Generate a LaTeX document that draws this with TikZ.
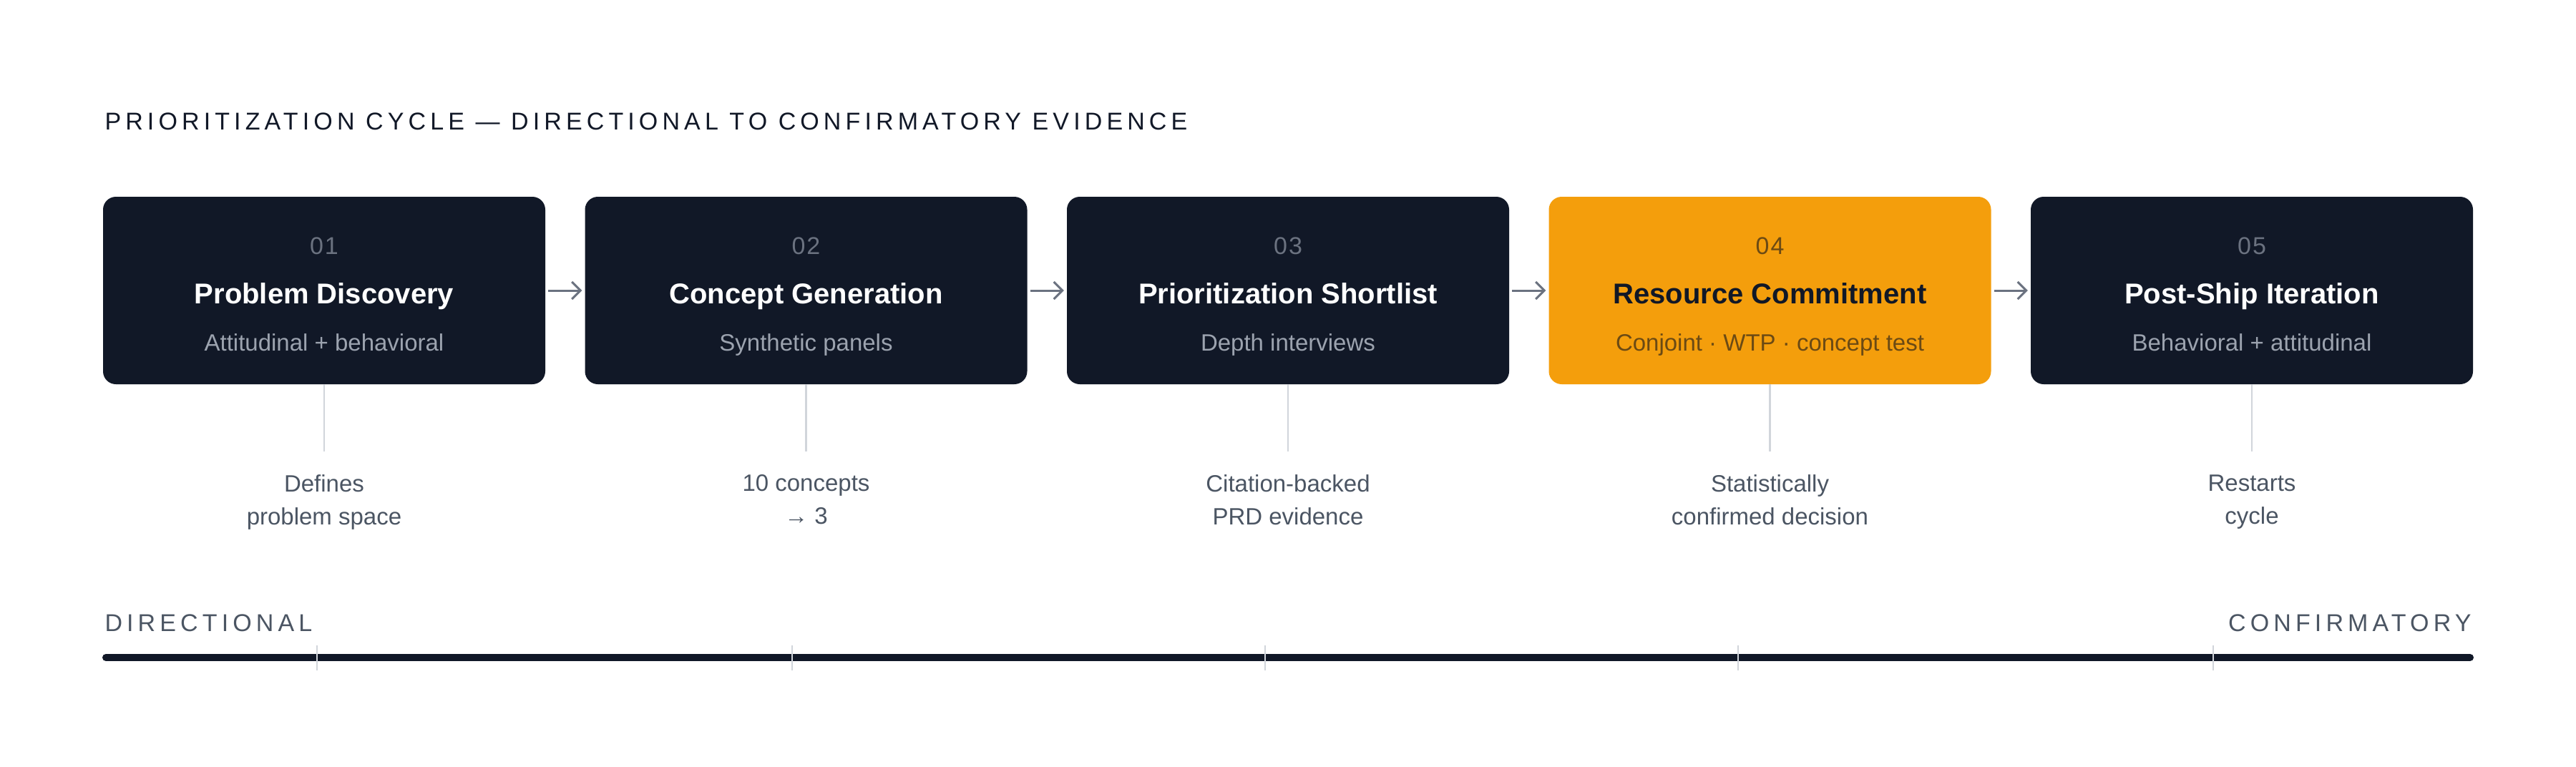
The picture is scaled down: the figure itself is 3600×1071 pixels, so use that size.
\documentclass[tikz,border=0pt]{standalone}
\usepackage{fontspec}
\setmainfont{Liberation Sans}
\newfontfamily\spaced[LetterSpace=18]{Liberation Sans}
\newfontfamily\spacedb[LetterSpace=6]{Liberation Sans}
\usetikzlibrary{arrows.meta}
\definecolor{ink}{HTML}{111827}
\definecolor{amber}{HTML}{F49E0C}
\definecolor{numgray}{HTML}{6B7280}
\definecolor{subgray}{HTML}{9CA3AF}
\definecolor{lblgray}{HTML}{4B5563}
\definecolor{rule}{HTML}{D1D5DB}
\definecolor{brown}{HTML}{6B4A14}
\begin{document}
\begin{tikzpicture}[x=1pt,y=-1pt,
  box/.style={draw=none,fill=ink,rounded corners=18pt,minimum width=618pt,minimum height=262pt,inner sep=0pt},
  num/.style={font=\fontsize{34}{40}\selectfont\spacedb,text=numgray},
  ttl/.style={font=\fontsize{40}{48}\selectfont\bfseries,text=white},
  sub/.style={font=\fontsize{33}{40}\selectfont,text=subgray},
  lbl/.style={font=\fontsize{33}{46}\selectfont,text=lblgray,align=center},
  arr/.style={draw=numgray,line width=3pt,-{Straight Barb[length=12pt,width=24pt,line width=3pt]}},
  vline/.style={draw=rule,line width=2.5pt},
  endcap/.style={font=\fontsize{34}{40}\selectfont\spaced,text=lblgray}]
\useasboundingbox (0,0) rectangle (3600,1071);
\fill[white] (0,0) rectangle (3600,1071);
\node[anchor=base west,font=\fontsize{34}{40}\selectfont\spaced,text=ink] (title) at (143,181) {PRIORITIZATION CYCLE — DIRECTIONAL TO CONFIRMATORY EVIDENCE};
\foreach \i/\n/\t/\s/\l/\bg/\nc/\tc in {
  1/01/Problem Discovery/Attitudinal + behavioral/{Defines\\problem space}/ink/numgray/white,
  2/02/Concept Generation/Synthetic panels/{10 concepts\\→ 3}/ink/numgray/white,
  3/03/Prioritization Shortlist/Depth interviews/{Citation-backed\\PRD evidence}/ink/numgray/white,
  4/04/Resource Commitment/Conjoint · WTP · concept test/{Statistically\\confirmed decision}/amber/brown/ink,
  5/05/Post-Ship Iteration/Behavioral + attitudinal/{Restarts\\cycle}/ink/numgray/white}{
  \pgfmathsetmacro{\cx}{144+309+(\i-1)*673.5}
  \node[box,fill=\bg] (b\i) at (\cx,406) {};
  \node[num,anchor=base,text=\nc] (n\i) at (\cx,355) {\n};
  \node[ttl,anchor=base,text=\tc] (t\i) at (\cx,424) {\t};
  \ifnum\i=4
    \node[sub,anchor=base,text=brown] (s\i) at (\cx,490) {\s};
  \else
    \node[sub,anchor=base] (s\i) at (\cx,490) {\s};
  \fi
  \coordinate (e\i) at (\cx,631);
  \draw[vline] (b\i.south) -- (e\i);
  \node[lbl,anchor=north] (l\i) at (\cx,660) {\l};
}
\foreach \a/\b in {1/2,2/3,3/4,4/5}{
  \draw[arr] ([xshift=4pt]b\a.east) -- ([xshift=-4pt]b\b.west);
}
\node[endcap,anchor=base west] (dir) at (143,882) {DIRECTIONAL};
\node[endcap,anchor=base east] (conf) at (3457,882) {CONFIRMATORY};
\coordinate (bl) at (148,919);
\coordinate (br) at (3452,919);
\draw[ink,line width=10pt,line cap=round] (bl) -- (br);
\foreach \x in {443,1107,1768,2429,3093}{
  \draw[rule,line width=2.5pt] (\x,902) -- (\x,937);
}
\end{tikzpicture}
\end{document}
